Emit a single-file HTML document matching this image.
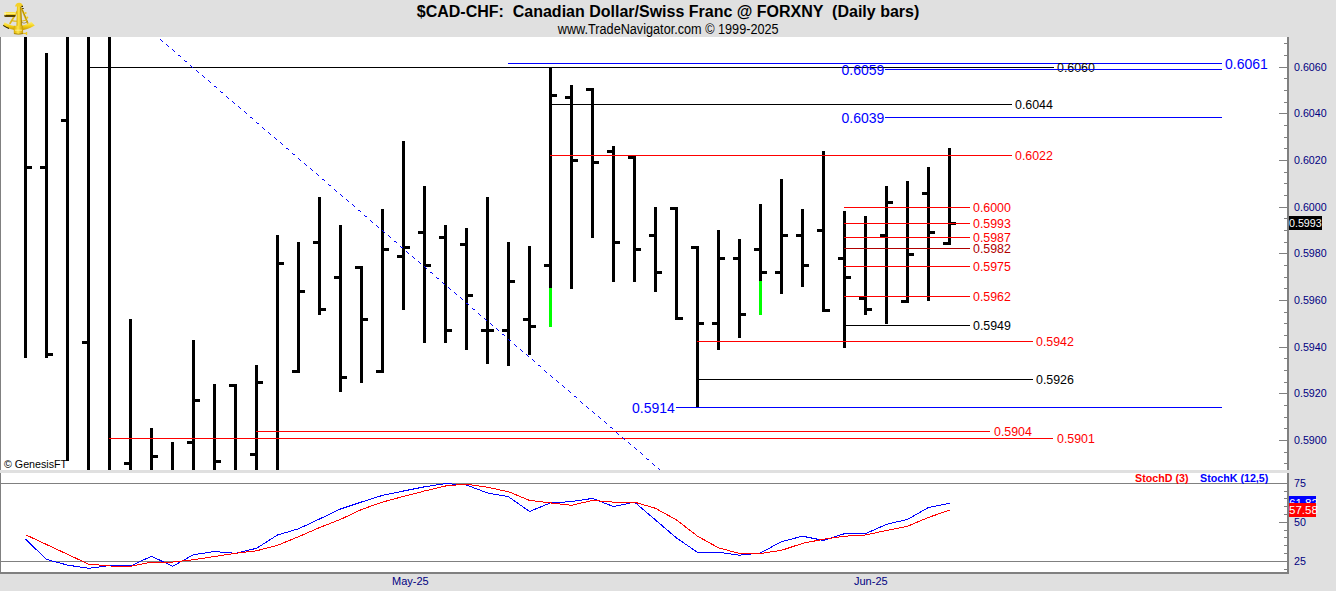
<!DOCTYPE html>
<html><head><meta charset="utf-8"><title>CAD-CHF Daily</title>
<style>html,body{margin:0;padding:0;background:#e0e0e0;width:1336px;height:591px;overflow:hidden}svg{display:block}text{white-space:pre}</style>
</head><body><svg width="1336" height="591" viewBox="0 0 1336 591" font-family="'Liberation Sans', sans-serif" shape-rendering="crispEdges"><defs><clipPath id="cm"><rect x="0" y="37" width="1287" height="433"/></clipPath><clipPath id="cs"><rect x="0" y="473" width="1287" height="99"/></clipPath></defs><rect x="0" y="0" width="1336" height="591" fill="#e0e0e0"/><rect x="0" y="37" width="1287" height="433" fill="#fff"/><rect x="0" y="473" width="1287" height="99" fill="#fff"/><rect x="0" y="37" width="1" height="433" fill="#808080"/><rect x="0" y="473" width="1" height="101" fill="#808080"/><rect x="0" y="572" width="1289" height="2" fill="#808080"/><rect x="1287" y="37" width="2" height="433" fill="#808080"/><rect x="1287" y="473" width="2" height="101" fill="#808080"/><g clip-path="url(#cm)"><rect x="24" y="30" width="3" height="328" fill="#000"/><rect x="27" y="166" width="5" height="3" fill="#000"/><rect x="45" y="53" width="3" height="305" fill="#000"/><rect x="40" y="166" width="5" height="3" fill="#000"/><rect x="48" y="353" width="5" height="3" fill="#000"/><rect x="66" y="30" width="3" height="450" fill="#000"/><rect x="61" y="119" width="5" height="3" fill="#000"/><rect x="87" y="30" width="3" height="450" fill="#000"/><rect x="82" y="341" width="5" height="3" fill="#000"/><rect x="108" y="30" width="3" height="450" fill="#000"/><rect x="129" y="319" width="3" height="161" fill="#000"/><rect x="124" y="462" width="5" height="3" fill="#000"/><rect x="150" y="428" width="3" height="52" fill="#000"/><rect x="153" y="455" width="5" height="3" fill="#000"/><rect x="171" y="442" width="3" height="38" fill="#000"/><rect x="192" y="340" width="3" height="140" fill="#000"/><rect x="187" y="441" width="5" height="3" fill="#000"/><rect x="195" y="399" width="5" height="3" fill="#000"/><rect x="213" y="384" width="3" height="96" fill="#000"/><rect x="216" y="460" width="5" height="3" fill="#000"/><rect x="234" y="384" width="3" height="96" fill="#000"/><rect x="229" y="384" width="5" height="3" fill="#000"/><rect x="255" y="365" width="3" height="115" fill="#000"/><rect x="250" y="453" width="5" height="3" fill="#000"/><rect x="258" y="381" width="5" height="3" fill="#000"/><rect x="276" y="235" width="3" height="245" fill="#000"/><rect x="279" y="262" width="5" height="3" fill="#000"/><rect x="297" y="242" width="3" height="131" fill="#000"/><rect x="292" y="370" width="5" height="3" fill="#000"/><rect x="300" y="290" width="5" height="3" fill="#000"/><rect x="318" y="197" width="3" height="118" fill="#000"/><rect x="313" y="241" width="5" height="3" fill="#000"/><rect x="321" y="308" width="5" height="3" fill="#000"/><rect x="339" y="225" width="3" height="167" fill="#000"/><rect x="334" y="276" width="5" height="3" fill="#000"/><rect x="342" y="376" width="5" height="3" fill="#000"/><rect x="360" y="266" width="3" height="117" fill="#000"/><rect x="355" y="266" width="5" height="3" fill="#000"/><rect x="363" y="318" width="5" height="3" fill="#000"/><rect x="381" y="209" width="3" height="164" fill="#000"/><rect x="376" y="370" width="5" height="3" fill="#000"/><rect x="384" y="248" width="5" height="3" fill="#000"/><rect x="402" y="141" width="3" height="169" fill="#000"/><rect x="397" y="255" width="5" height="3" fill="#000"/><rect x="405" y="246" width="5" height="3" fill="#000"/><rect x="423" y="186" width="3" height="157" fill="#000"/><rect x="418" y="231" width="5" height="3" fill="#000"/><rect x="426" y="264" width="5" height="3" fill="#000"/><rect x="444" y="225" width="3" height="118" fill="#000"/><rect x="439" y="236" width="5" height="3" fill="#000"/><rect x="447" y="329" width="5" height="3" fill="#000"/><rect x="465" y="228" width="3" height="122" fill="#000"/><rect x="460" y="243" width="5" height="3" fill="#000"/><rect x="468" y="294" width="5" height="3" fill="#000"/><rect x="486" y="197" width="3" height="167" fill="#000"/><rect x="481" y="329" width="5" height="3" fill="#000"/><rect x="489" y="329" width="5" height="3" fill="#000"/><rect x="507" y="242" width="3" height="124" fill="#000"/><rect x="502" y="329" width="5" height="3" fill="#000"/><rect x="510" y="280" width="5" height="3" fill="#000"/><rect x="528" y="246" width="3" height="109" fill="#000"/><rect x="523" y="318" width="5" height="3" fill="#000"/><rect x="531" y="325" width="5" height="3" fill="#000"/><rect x="549" y="68" width="3" height="259" fill="#000"/><rect x="544" y="264" width="5" height="3" fill="#000"/><rect x="552" y="94" width="5" height="3" fill="#000"/><rect x="549" y="288" width="3" height="39" fill="#00ff00"/><rect x="570" y="85" width="3" height="204" fill="#000"/><rect x="565" y="96" width="5" height="3" fill="#000"/><rect x="573" y="159" width="5" height="3" fill="#000"/><rect x="591" y="88" width="3" height="150" fill="#000"/><rect x="586" y="88" width="5" height="3" fill="#000"/><rect x="594" y="161" width="5" height="3" fill="#000"/><rect x="612" y="146" width="3" height="136" fill="#000"/><rect x="607" y="150" width="5" height="3" fill="#000"/><rect x="615" y="241" width="5" height="3" fill="#000"/><rect x="633" y="156" width="3" height="126" fill="#000"/><rect x="628" y="156" width="5" height="3" fill="#000"/><rect x="636" y="248" width="5" height="3" fill="#000"/><rect x="654" y="207" width="3" height="85" fill="#000"/><rect x="649" y="234" width="5" height="3" fill="#000"/><rect x="657" y="271" width="5" height="3" fill="#000"/><rect x="675" y="207" width="3" height="113" fill="#000"/><rect x="670" y="207" width="5" height="3" fill="#000"/><rect x="678" y="317" width="5" height="3" fill="#000"/><rect x="696" y="246" width="3" height="162" fill="#000"/><rect x="691" y="246" width="5" height="3" fill="#000"/><rect x="699" y="322" width="5" height="3" fill="#000"/><rect x="717" y="230" width="3" height="120" fill="#000"/><rect x="712" y="322" width="5" height="3" fill="#000"/><rect x="720" y="257" width="5" height="3" fill="#000"/><rect x="738" y="239" width="3" height="99" fill="#000"/><rect x="733" y="257" width="5" height="3" fill="#000"/><rect x="741" y="313" width="5" height="3" fill="#000"/><rect x="759" y="204" width="3" height="111" fill="#000"/><rect x="754" y="248" width="5" height="3" fill="#000"/><rect x="762" y="271" width="5" height="3" fill="#000"/><rect x="759" y="281" width="3" height="34" fill="#00ff00"/><rect x="780" y="179" width="3" height="115" fill="#000"/><rect x="775" y="271" width="5" height="3" fill="#000"/><rect x="783" y="234" width="5" height="3" fill="#000"/><rect x="801" y="209" width="3" height="78" fill="#000"/><rect x="796" y="234" width="5" height="3" fill="#000"/><rect x="804" y="264" width="5" height="3" fill="#000"/><rect x="822" y="151" width="3" height="161" fill="#000"/><rect x="817" y="229" width="5" height="3" fill="#000"/><rect x="825" y="309" width="5" height="3" fill="#000"/><rect x="843" y="211" width="3" height="137" fill="#000"/><rect x="838" y="257" width="5" height="3" fill="#000"/><rect x="846" y="276" width="5" height="3" fill="#000"/><rect x="864" y="216" width="3" height="99" fill="#000"/><rect x="859" y="297" width="5" height="3" fill="#000"/><rect x="867" y="308" width="5" height="3" fill="#000"/><rect x="885" y="186" width="3" height="138" fill="#000"/><rect x="880" y="234" width="5" height="3" fill="#000"/><rect x="888" y="201" width="5" height="3" fill="#000"/><rect x="906" y="181" width="3" height="122" fill="#000"/><rect x="901" y="300" width="5" height="3" fill="#000"/><rect x="909" y="253" width="5" height="3" fill="#000"/><rect x="927" y="167" width="3" height="134" fill="#000"/><rect x="922" y="192" width="5" height="3" fill="#000"/><rect x="930" y="231" width="5" height="3" fill="#000"/><rect x="948" y="148" width="3" height="97" fill="#000"/><rect x="943" y="242" width="5" height="3" fill="#000"/><rect x="951" y="222" width="5" height="3" fill="#000"/><rect x="88" y="67" width="966" height="1" fill="#000000"/><rect x="508" y="63" width="714" height="1" fill="#0000ff"/><rect x="885" y="69" width="337" height="1" fill="#0000ff"/><rect x="550" y="104" width="462" height="1" fill="#000000"/><rect x="885" y="117" width="337" height="1" fill="#0000ff"/><rect x="550" y="155" width="462" height="1" fill="#ff0000"/><rect x="844" y="207" width="126" height="1" fill="#ff0000"/><rect x="844" y="223" width="126" height="1" fill="#ff0000"/><rect x="844" y="237" width="126" height="1" fill="#ff0000"/><rect x="844" y="248" width="126" height="1" fill="#b00000"/><rect x="844" y="266" width="126" height="1" fill="#ff0000"/><rect x="844" y="296" width="126" height="1" fill="#ff0000"/><rect x="844" y="325" width="126" height="1" fill="#000000"/><rect x="697" y="341" width="336" height="1" fill="#ff0000"/><rect x="697" y="379" width="336" height="1" fill="#000000"/><rect x="676" y="407" width="546" height="1" fill="#0000ff"/><rect x="256" y="431" width="734" height="1" fill="#ff0000"/><rect x="109" y="438" width="944" height="1" fill="#ff0000"/><path d="M160 39h1v1h-1zM161 40h1v1h-1zM162 41h1v1h-1zM166 44h1v1h-1zM167 45h1v1h-1zM168 46h1v1h-1zM172 49h1v1h-1zM173 50h1v1h-1zM174 51h1v1h-1zM178 55h1v1h-1zM179 55h1v1h-1zM180 56h1v1h-1zM184 60h1v1h-1zM185 61h1v1h-1zM186 61h1v1h-1zM190 65h1v1h-1zM191 66h1v1h-1zM192 67h1v1h-1zM196 70h1v1h-1zM197 71h1v1h-1zM198 72h1v1h-1zM202 75h1v1h-1zM203 76h1v1h-1zM204 77h1v1h-1zM208 80h1v1h-1zM209 81h1v1h-1zM210 82h1v1h-1zM214 86h1v1h-1zM215 86h1v1h-1zM216 87h1v1h-1zM220 91h1v1h-1zM221 92h1v1h-1zM222 92h1v1h-1zM226 96h1v1h-1zM227 97h1v1h-1zM228 98h1v1h-1zM232 101h1v1h-1zM233 102h1v1h-1zM234 103h1v1h-1zM238 106h1v1h-1zM239 107h1v1h-1zM240 108h1v1h-1zM244 111h1v1h-1zM245 112h1v1h-1zM246 113h1v1h-1zM250 117h1v1h-1zM251 117h1v1h-1zM252 118h1v1h-1zM256 122h1v1h-1zM257 123h1v1h-1zM258 123h1v1h-1zM262 127h1v1h-1zM263 128h1v1h-1zM264 129h1v1h-1zM268 132h1v1h-1zM269 133h1v1h-1zM270 134h1v1h-1zM274 137h1v1h-1zM275 138h1v1h-1zM276 139h1v1h-1zM280 142h1v1h-1zM281 143h1v1h-1zM282 144h1v1h-1zM286 148h1v1h-1zM287 148h1v1h-1zM288 149h1v1h-1zM292 153h1v1h-1zM293 154h1v1h-1zM294 154h1v1h-1zM298 158h1v1h-1zM299 159h1v1h-1zM300 160h1v1h-1zM304 163h1v1h-1zM305 164h1v1h-1zM306 165h1v1h-1zM310 168h1v1h-1zM311 169h1v1h-1zM312 170h1v1h-1zM316 173h1v1h-1zM317 174h1v1h-1zM318 175h1v1h-1zM322 179h1v1h-1zM323 179h1v1h-1zM324 180h1v1h-1zM328 184h1v1h-1zM329 185h1v1h-1zM330 185h1v1h-1zM334 189h1v1h-1zM335 190h1v1h-1zM336 191h1v1h-1zM340 194h1v1h-1zM341 195h1v1h-1zM342 196h1v1h-1zM346 199h1v1h-1zM347 200h1v1h-1zM348 201h1v1h-1zM352 204h1v1h-1zM353 205h1v1h-1zM354 206h1v1h-1zM358 210h1v1h-1zM359 210h1v1h-1zM360 211h1v1h-1zM364 215h1v1h-1zM365 216h1v1h-1zM366 216h1v1h-1zM370 220h1v1h-1zM371 221h1v1h-1zM372 222h1v1h-1zM376 225h1v1h-1zM377 226h1v1h-1zM378 227h1v1h-1zM382 230h1v1h-1zM383 231h1v1h-1zM384 232h1v1h-1zM388 235h1v1h-1zM389 236h1v1h-1zM390 237h1v1h-1zM394 241h1v1h-1zM395 241h1v1h-1zM396 242h1v1h-1zM400 246h1v1h-1zM401 247h1v1h-1zM402 247h1v1h-1zM406 251h1v1h-1zM407 252h1v1h-1zM408 253h1v1h-1zM412 256h1v1h-1zM413 257h1v1h-1zM414 258h1v1h-1zM418 261h1v1h-1zM419 262h1v1h-1zM420 263h1v1h-1zM424 266h1v1h-1zM425 267h1v1h-1zM426 268h1v1h-1zM430 272h1v1h-1zM431 272h1v1h-1zM432 273h1v1h-1zM436 277h1v1h-1zM437 278h1v1h-1zM438 278h1v1h-1zM442 282h1v1h-1zM443 283h1v1h-1zM444 284h1v1h-1zM448 287h1v1h-1zM449 288h1v1h-1zM450 289h1v1h-1zM454 292h1v1h-1zM455 293h1v1h-1zM456 294h1v1h-1zM460 297h1v1h-1zM461 298h1v1h-1zM462 299h1v1h-1zM466 303h1v1h-1zM467 303h1v1h-1zM468 304h1v1h-1zM472 308h1v1h-1zM473 309h1v1h-1zM474 309h1v1h-1zM478 313h1v1h-1zM479 314h1v1h-1zM480 315h1v1h-1zM484 318h1v1h-1zM485 319h1v1h-1zM486 320h1v1h-1zM490 323h1v1h-1zM491 324h1v1h-1zM492 325h1v1h-1zM496 328h1v1h-1zM497 329h1v1h-1zM498 330h1v1h-1zM502 334h1v1h-1zM503 334h1v1h-1zM504 335h1v1h-1zM508 339h1v1h-1zM509 340h1v1h-1zM510 340h1v1h-1zM514 344h1v1h-1zM515 345h1v1h-1zM516 346h1v1h-1zM520 349h1v1h-1zM521 350h1v1h-1zM522 351h1v1h-1zM526 354h1v1h-1zM527 355h1v1h-1zM528 356h1v1h-1zM532 359h1v1h-1zM533 360h1v1h-1zM534 361h1v1h-1zM538 365h1v1h-1zM539 365h1v1h-1zM540 366h1v1h-1zM544 370h1v1h-1zM545 371h1v1h-1zM546 372h1v1h-1zM550 375h1v1h-1zM551 376h1v1h-1zM552 377h1v1h-1zM556 380h1v1h-1zM557 381h1v1h-1zM558 382h1v1h-1zM562 385h1v1h-1zM563 386h1v1h-1zM564 387h1v1h-1zM568 390h1v1h-1zM569 391h1v1h-1zM570 392h1v1h-1zM574 396h1v1h-1zM575 396h1v1h-1zM576 397h1v1h-1zM580 401h1v1h-1zM581 402h1v1h-1zM582 403h1v1h-1zM586 406h1v1h-1zM587 407h1v1h-1zM588 408h1v1h-1zM592 411h1v1h-1zM593 412h1v1h-1zM594 413h1v1h-1zM598 416h1v1h-1zM599 417h1v1h-1zM600 418h1v1h-1zM604 421h1v1h-1zM605 422h1v1h-1zM606 423h1v1h-1zM610 427h1v1h-1zM611 427h1v1h-1zM612 428h1v1h-1zM616 432h1v1h-1zM617 433h1v1h-1zM618 434h1v1h-1zM622 437h1v1h-1zM623 438h1v1h-1zM624 439h1v1h-1zM628 442h1v1h-1zM629 443h1v1h-1zM630 444h1v1h-1zM634 447h1v1h-1zM635 448h1v1h-1zM636 449h1v1h-1zM640 452h1v1h-1zM641 453h1v1h-1zM642 454h1v1h-1zM646 458h1v1h-1zM647 459h1v1h-1zM648 459h1v1h-1zM652 463h1v1h-1zM653 464h1v1h-1zM654 465h1v1h-1zM658 468h1v1h-1zM659 469h1v1h-1zM660 470h1v1h-1z" fill="#0000ff"/></g><text x="1057" y="71.8" font-size="12.4" fill="#000000">0.6060</text><text x="1225" y="68.5" font-size="14" fill="#0000ff">0.6061</text><text x="841.5" y="74.5" font-size="14" fill="#0000ff">0.6059</text><text x="1015" y="108.8" font-size="12.4" fill="#000000">0.6044</text><text x="841.5" y="122.5" font-size="14" fill="#0000ff">0.6039</text><text x="1015" y="159.8" font-size="12.4" fill="#ff0000">0.6022</text><text x="973" y="211.8" font-size="12.4" fill="#ff0000">0.6000</text><text x="973" y="227.8" font-size="12.4" fill="#ff0000">0.5993</text><text x="973" y="241.8" font-size="12.4" fill="#ff0000">0.5987</text><text x="973" y="252.8" font-size="12.4" fill="#b00000">0.5982</text><text x="973" y="270.8" font-size="12.4" fill="#ff0000">0.5975</text><text x="973" y="300.8" font-size="12.4" fill="#ff0000">0.5962</text><text x="973" y="329.8" font-size="12.4" fill="#000000">0.5949</text><text x="1036" y="345.8" font-size="12.4" fill="#ff0000">0.5942</text><text x="1036" y="383.8" font-size="12.4" fill="#000000">0.5926</text><text x="632" y="412.5" font-size="14" fill="#0000ff">0.5914</text><text x="994" y="435.8" font-size="12.4" fill="#ff0000">0.5904</text><text x="1057" y="442.8" font-size="12.4" fill="#ff0000">0.5901</text><rect x="1054" y="69" width="168" height="1" fill="#0000ff"/><rect x="3" y="461" width="66" height="9" fill="#fff"/><text x="4" y="468" font-size="10.7" fill="#000">© GenesisFT</text><rect x="1284" y="43" width="3" height="1" fill="#808080"/><rect x="1284" y="55" width="3" height="1" fill="#808080"/><rect x="1279" y="67" width="8" height="1" fill="#808080"/><text x="1294" y="70.8" font-size="10.7" fill="#000080">0.6060</text><rect x="1284" y="78" width="3" height="1" fill="#808080"/><rect x="1284" y="90" width="3" height="1" fill="#808080"/><rect x="1284" y="102" width="3" height="1" fill="#808080"/><rect x="1279" y="113" width="8" height="1" fill="#808080"/><text x="1294" y="116.8" font-size="10.7" fill="#000080">0.6040</text><rect x="1284" y="125" width="3" height="1" fill="#808080"/><rect x="1284" y="137" width="3" height="1" fill="#808080"/><rect x="1284" y="148" width="3" height="1" fill="#808080"/><rect x="1279" y="160" width="8" height="1" fill="#808080"/><text x="1294" y="163.8" font-size="10.7" fill="#000080">0.6020</text><rect x="1284" y="172" width="3" height="1" fill="#808080"/><rect x="1284" y="183" width="3" height="1" fill="#808080"/><rect x="1284" y="195" width="3" height="1" fill="#808080"/><rect x="1279" y="207" width="8" height="1" fill="#808080"/><text x="1294" y="210.8" font-size="10.7" fill="#000080">0.6000</text><rect x="1284" y="218" width="3" height="1" fill="#808080"/><rect x="1284" y="230" width="3" height="1" fill="#808080"/><rect x="1284" y="242" width="3" height="1" fill="#808080"/><rect x="1279" y="253" width="8" height="1" fill="#808080"/><text x="1294" y="256.8" font-size="10.7" fill="#000080">0.5980</text><rect x="1284" y="265" width="3" height="1" fill="#808080"/><rect x="1284" y="277" width="3" height="1" fill="#808080"/><rect x="1284" y="288" width="3" height="1" fill="#808080"/><rect x="1279" y="300" width="8" height="1" fill="#808080"/><text x="1294" y="303.8" font-size="10.7" fill="#000080">0.5960</text><rect x="1284" y="312" width="3" height="1" fill="#808080"/><rect x="1284" y="323" width="3" height="1" fill="#808080"/><rect x="1284" y="335" width="3" height="1" fill="#808080"/><rect x="1279" y="347" width="8" height="1" fill="#808080"/><text x="1294" y="350.8" font-size="10.7" fill="#000080">0.5940</text><rect x="1284" y="358" width="3" height="1" fill="#808080"/><rect x="1284" y="370" width="3" height="1" fill="#808080"/><rect x="1284" y="382" width="3" height="1" fill="#808080"/><rect x="1279" y="393" width="8" height="1" fill="#808080"/><text x="1294" y="396.8" font-size="10.7" fill="#000080">0.5920</text><rect x="1284" y="405" width="3" height="1" fill="#808080"/><rect x="1284" y="417" width="3" height="1" fill="#808080"/><rect x="1284" y="428" width="3" height="1" fill="#808080"/><rect x="1279" y="440" width="8" height="1" fill="#808080"/><text x="1294" y="443.8" font-size="10.7" fill="#000080">0.5900</text><rect x="1284" y="452" width="3" height="1" fill="#808080"/><rect x="1284" y="463" width="3" height="1" fill="#808080"/><rect x="1289" y="216" width="33" height="14" fill="#000"/><text x="1289" y="227" font-size="10.7" fill="#fff">0.5993</text><rect x="0" y="483" width="1287" height="1" fill="#808080"/><rect x="0" y="561" width="1287" height="1" fill="#808080"/><rect x="1284" y="553" width="3" height="1" fill="#808080"/><rect x="1284" y="545" width="3" height="1" fill="#808080"/><rect x="1284" y="537" width="3" height="1" fill="#808080"/><rect x="1284" y="530" width="3" height="1" fill="#808080"/><rect x="1279" y="522" width="8" height="1" fill="#808080"/><rect x="1284" y="514" width="3" height="1" fill="#808080"/><rect x="1284" y="506" width="3" height="1" fill="#808080"/><rect x="1284" y="498" width="3" height="1" fill="#808080"/><rect x="1284" y="491" width="3" height="1" fill="#808080"/><text x="1294" y="487.0" font-size="10.7" fill="#000080">75</text><text x="1294" y="526.0" font-size="10.7" fill="#000080">50</text><text x="1294" y="565.0" font-size="10.7" fill="#000080">25</text><rect x="1284" y="569" width="3" height="1" fill="#808080"/><g clip-path="url(#cs)"><polyline points="25.5,539.2 46.5,559.4 67.5,565.1 88.5,568.3 109.5,565.6 130.5,566.0 151.5,556.2 172.5,566.3 193.5,554.7 214.5,551.5 235.5,553.3 256.5,548.3 277.5,535.0 298.5,528.8 319.5,519.0 340.5,509.0 361.5,502.0 382.5,495.4 403.5,491.0 424.5,486.8 445.5,483.6 466.5,485.0 487.5,493.0 508.5,496.7 529.5,511.5 550.5,502.9 571.5,501.6 592.5,498.4 613.5,506.6 634.5,502.1 655.5,520.0 676.5,538.0 697.5,552.3 718.5,552.3 739.5,555.2 760.5,553.0 781.5,541.6 802.5,536.2 823.5,540.4 844.5,533.7 865.5,533.7 886.5,524.3 907.5,519.4 928.5,507.5 949.5,503.3" fill="none" stroke="#0000ff" stroke-width="1"/><polyline points="25.5,534.7 46.5,544.5 67.5,554.3 88.5,564.1 109.5,566.0 130.5,566.3 151.5,562.1 172.5,562.1 193.5,559.7 214.5,556.5 235.5,553.3 256.5,550.8 277.5,545.3 298.5,536.7 319.5,527.6 340.5,519.4 361.5,509.5 382.5,502.1 403.5,496.4 424.5,491.0 445.5,486.0 466.5,484.1 487.5,487.3 508.5,491.7 529.5,500.4 550.5,502.9 571.5,505.3 592.5,500.4 613.5,502.1 634.5,502.1 655.5,508.3 676.5,519.9 697.5,536.2 718.5,547.8 739.5,553.5 760.5,553.5 781.5,550.3 802.5,543.4 823.5,539.2 844.5,536.2 865.5,535.0 886.5,530.5 907.5,526.3 928.5,517.4 949.5,510.2" fill="none" stroke="#ff0000" stroke-width="1"/></g><text x="1135" y="482" font-size="10.7" font-weight="bold" fill="#ff0000">StochD (3)</text><text x="1200" y="482" font-size="10.7" font-weight="bold" fill="#0000ff">StochK (12,5)</text><rect x="1289" y="496" width="27" height="14" fill="#0000ff"/><text x="1289" y="506.5" font-size="11.5" fill="#fff">61.82</text><rect x="1289" y="503" width="27" height="14" fill="#ff0000"/><text x="1289" y="513.5" font-size="11.5" fill="#fff">57.58</text><text x="392" y="584.6" font-size="11" fill="#000080">May-25</text><text x="854" y="584.6" font-size="11" fill="#000080">Jun-25</text><text x="668" y="17" font-size="16" font-weight="bold" fill="#000" text-anchor="middle">$CAD-CHF:  Canadian Dollar/Swiss Franc @ FORXNY  (Daily bars)</text><text x="557.8" y="34" font-size="13.8" fill="#000" textLength="220.8" lengthAdjust="spacingAndGlyphs">www.TradeNavigator.com © 1999-2025</text><g shape-rendering="auto">
<defs><linearGradient id="gd" x1="0" y1="0" x2="0" y2="1"><stop offset="0" stop-color="#fff27a"/><stop offset="0.5" stop-color="#f4d018"/><stop offset="1" stop-color="#c09400"/></linearGradient>
<linearGradient id="gt" x1="0" y1="0" x2="0" y2="1"><stop offset="0" stop-color="#f8dc30"/><stop offset="0.3" stop-color="#fff07a"/><stop offset="0.55" stop-color="#e8c010"/><stop offset="0.72" stop-color="#3a2c00"/><stop offset="1" stop-color="#6a5000"/></linearGradient>
<linearGradient id="gh" x1="0" y1="0" x2="1" y2="0"><stop offset="0" stop-color="#d8aa00"/><stop offset="0.45" stop-color="#ffe648"/><stop offset="1" stop-color="#c89800"/></linearGradient></defs>
<path d="M3,25.6 Q18,35.2 34.8,25.4 L31.4,21.8 Q18,30.2 4.6,22.2 Z" fill="url(#gd)"/>
<path d="M3.2,25.4 Q6,27.4 9,28.6" stroke="#2a2000" stroke-width="1.1" fill="none"/>
<path d="M21.6,8.5 L27.6,23" stroke="#e6bc14" stroke-width="1.9" stroke-linecap="round"/>
<path d="M22.2,9.5 L27.8,22.6" stroke="#7a5a00" stroke-width="0.5" fill="none"/>
<circle cx="25.6" cy="13" r="1.1" fill="#f0cc20"/>
<circle cx="27.2" cy="17.6" r="1.1" fill="#f0cc20"/>
<path d="M17.5,11 L10,23.5" stroke="#e0b814" stroke-width="1.6" stroke-linecap="round"/>
<path d="M11,20.4 Q18,22.4 27,20" stroke="#e0b814" stroke-width="1.1" fill="none"/>
<path d="M21,22 Q24,24.5 27,22" stroke="#8a6a00" stroke-width="0.6" fill="none"/>
<rect x="4.2" y="12" width="11.3" height="5" rx="1.2" fill="url(#gt)"/>
<rect x="4.4" y="12.3" width="1.2" height="3" fill="#fff6b0"/>
<path d="M17,5.5 L21.2,5.5 L21.8,27 L16.4,27 Z" fill="url(#gh)"/>
<path d="M20.6,7 L21.8,27" stroke="#8a6800" stroke-width="0.6"/>
<path d="M15,6.6 Q15.6,3 19.2,2.8 Q22.6,3 23,6.6 Z" fill="#f4d028"/>
<rect x="21.4" y="5.8" width="1.6" height="1.2" fill="#3a2a00"/>
<rect x="22.2" y="8" width="1.5" height="1" fill="#3a2a00"/>
<path d="M13.8,25.8 L23.1,25.8 L23.1,33.8 Q18.4,35 13.8,33.8 Z" fill="url(#gh)"/>
<path d="M14,33.6 Q18.4,34.8 23,33.6" stroke="#8a6800" stroke-width="0.7" fill="none"/>
<path d="M15,30.2 L22,30.2" stroke="#fff2a0" stroke-width="0.8"/>
<path d="M23,33.4 L26.2,33.4" stroke="#e8c020" stroke-width="1.1"/>
<rect x="25.8" y="32" width="1.4" height="3" fill="#f0cc20"/>
</g></svg></body></html>
